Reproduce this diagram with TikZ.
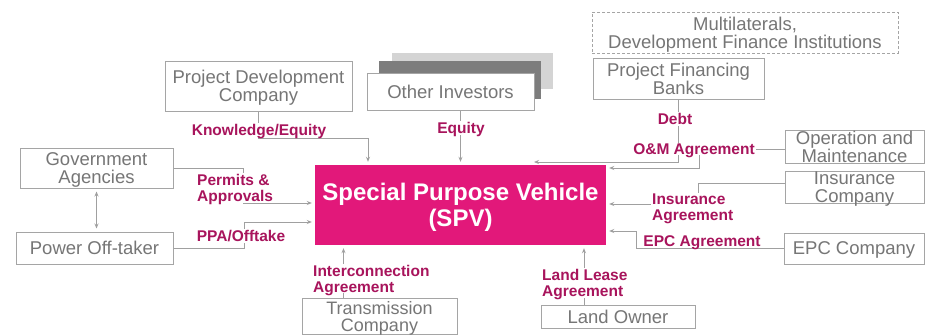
\documentclass[tikz,border=0pt]{standalone}
\usepackage{fontspec}
\setmainfont{Liberation Sans}
\usetikzlibrary{arrows.meta}
\definecolor{spvpink}{RGB}{226,24,122}
\definecolor{lblc}{RGB}{168,20,92}
\definecolor{boxline}{RGB}{165,165,165}
\definecolor{boxtext}{RGB}{118,118,118}
\definecolor{connc}{RGB}{160,160,160}
\definecolor{shlight}{RGB}{212,212,212}
\definecolor{shdark}{RGB}{125,125,125}
\tikzset{
  box/.style={draw=boxline, line width=1pt, fill=white, text=boxtext, inner sep=0pt, align=center, text depth=0pt, font=\fontsize{18.5}{18}\selectfont},
  lbl/.style={fill=white, text=lblc, inner sep=1pt, text depth=0pt, font=\bfseries\fontsize{15.5}{16}\selectfont},
  conn/.style={draw=connc, line width=0.9pt},
  arr/.style={-{Stealth[length=5pt,width=4pt]}, shorten >=3pt},
  darr/.style={{Stealth[length=5pt,width=4pt]}-{Stealth[length=5pt,width=4pt]}, shorten >=3pt, shorten <=3pt},
}
\begin{document}
\begin{tikzpicture}[x=1pt,y=-1pt]
\fill[white] (0,0) rectangle (925,335);
\useasboundingbox (0,0) rectangle (925,335);
% stacked investor shadows
\fill[shlight] (392,53) rectangle (553,89);
\fill[shdark] (379,61) rectangle (541,99);
% boxes
\node[box, minimum width=187pt, minimum height=50pt] (pdc) at (258.5,86) {Project Development\\Company};
\node[box, minimum width=167pt, minimum height=37pt] (oi) at (450.5,91.5) {Other Investors};
\node[box, dashed, dash pattern=on 3pt off 2pt, minimum width=306pt, minimum height=41pt] (mdfi) at (745,32.5) {Multilaterals,\\Development Finance Institutions};
\node[box, minimum width=171pt, minimum height=41pt] (pfb) at (678.5,78.5) {Project Financing\\Banks};
\node[box, minimum width=139pt, minimum height=33pt, font=\fontsize{18.5}{17}\selectfont] (om) at (854.5,146.5) {Operation and\\Maintenance};
\node[box, minimum width=139pt, minimum height=32pt] (ins) at (854.5,187) {Insurance\\Company};
\node[box, minimum width=140pt, minimum height=31pt] (epc) at (854,248.5) {EPC Company};
\node[box, minimum width=153pt, minimum height=40pt] (gov) at (96.5,168) {Government\\Agencies};
\node[box, minimum width=157pt, minimum height=32pt] (power) at (94.5,248) {Power Off-taker};
\node[box, minimum width=155pt, minimum height=36pt, font=\fontsize{18}{17}\selectfont] (trans) at (379.5,316) {Transmission\\Company};
\node[box, minimum width=154pt, minimum height=23pt] (lo) at (618,316.5) {Land Owner};
\node[fill=spvpink, minimum width=291pt, minimum height=80pt, inner sep=0pt, text=white, align=center, text depth=0pt, font=\bfseries\fontsize{24}{25.5}\selectfont] (spv) at (460.5,205) {Special Purpose Vehicle\\(SPV)};
% helper coordinates
\coordinate (k1) at (368,138);
\coordinate (debtend) at (531,162);
\coordinate (om1) at (699,168);
\coordinate (ins1) at (698,204);
\coordinate (epc1) at (636,231);
\coordinate (pm1) at (243,203);
\coordinate (pp1) at (244,222);
\coordinate (t1) at ([xshift=-36pt]trans.north);
\coordinate (l1) at ([xshift=-34pt]lo.north);
% connectors
\draw[conn,arr] (pdc.south) |- (k1) -- (k1 |- spv.north);
\draw[conn,arr] (oi.south -| spv.north) -- (spv.north);
\draw[conn,arr] (pfb.south) |- (debtend);
\draw[conn,arr] ([yshift=-2.5pt]om.west) -| (om1) -- (om1 -| spv.east);
\draw[conn,arr] ([yshift=4pt]ins.west) -| (ins1) -- (ins1 -| spv.east);
\draw[conn,arr] (epc.west) -| (epc1) -- (epc1 -| spv.east);
\draw[conn,arr] (gov.east) -| (pm1) -- (pm1 -| spv.west);
\draw[conn,arr] (power.east) -| (pp1) -- (pp1 -| spv.west);
\draw[conn,darr] (gov.south) -- (gov.south |- power.north);
\draw[conn,arr] (t1) -- (t1 |- spv.south);
\draw[conn,arr] (l1) -- (l1 |- spv.south);
% labels
\node[lbl] (kl) at (259,130) {Knowledge/Equity};
\node[lbl] (eql) at (461,128) {Equity};
\node[lbl] (debtl) at (675,119) {Debt};
\node[lbl] (oml) at (694,149) {O\&M Agreement};
\node[lbl, anchor=west, align=left] (perml) at (196,188) {Permits \&\\Approvals};
\node[lbl] (ppal) at (241,236) {PPA/Offtake};
\node[lbl, anchor=west, align=left] (intl) at (312,278.5) {Interconnection\\Agreement};
\node[lbl, anchor=west, align=left] (llal) at (541,283) {Land Lease\\Agreement};
\node[lbl, anchor=west, align=left] (insl) at (651,207) {Insurance\\Agreement};
\node[lbl] (epcl) at (702,241) {EPC Agreement};
\end{tikzpicture}
\end{document}
